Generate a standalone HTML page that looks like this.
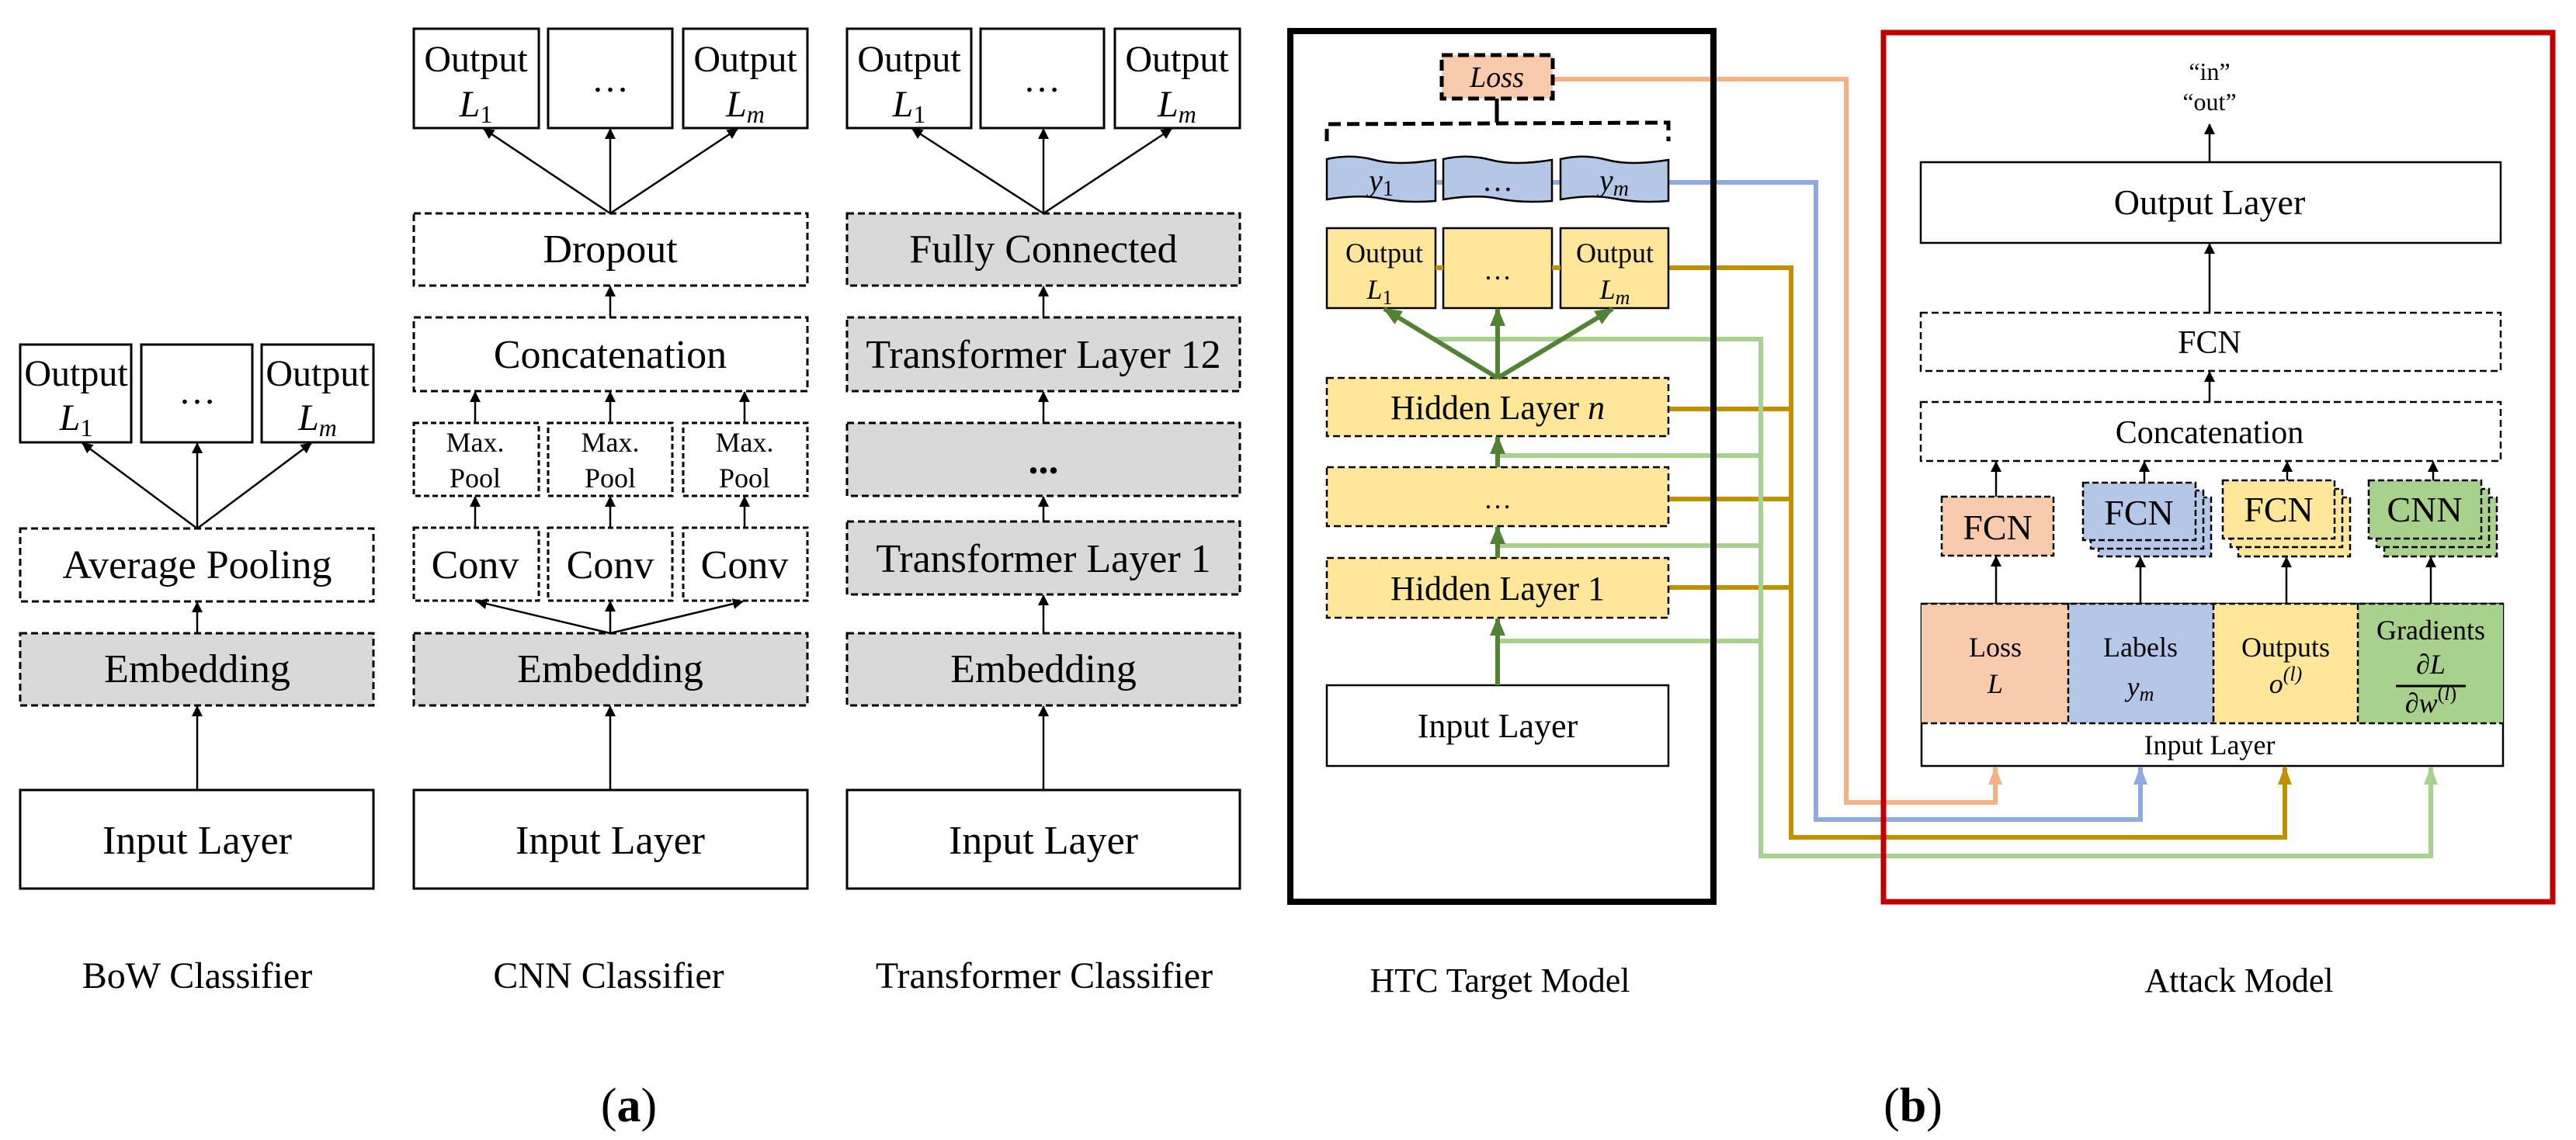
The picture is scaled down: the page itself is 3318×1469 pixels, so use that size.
<!DOCTYPE html>
<html><head><meta charset="utf-8"><style>
html,body{margin:0;padding:0;background:#fff;}
svg{display:block;font-family:"Liberation Serif","Times New Roman",serif;}
svg text{font-family:"Liberation Serif","Times New Roman",serif;fill:#000;}
.m{font-style:italic;}
</style></head><body>
<svg width="3318" height="1469" viewBox="0 0 3318 1469" xmlns="http://www.w3.org/2000/svg" font-family="Liberation Serif, serif">
<defs>
<marker id="a" markerWidth="14" markerHeight="14" refX="13" refY="7" orient="auto" markerUnits="userSpaceOnUse" viewBox="0 0 14 14"><path d="M0,0 L14,7 L0,14 z" fill="#000"/></marker>
<marker id="ag" markerWidth="24" markerHeight="20" refX="22" refY="10" orient="auto" markerUnits="userSpaceOnUse"><path d="M0,0 L24,10 L0,20 z" fill="#548235"/></marker>
<marker id="ao" markerWidth="24" markerHeight="18" refX="22" refY="9" orient="auto" markerUnits="userSpaceOnUse"><path d="M0,0 L24,9 L0,18 z" fill="#f4b183"/></marker>
<marker id="abl" markerWidth="24" markerHeight="18" refX="22" refY="9" orient="auto" markerUnits="userSpaceOnUse"><path d="M0,0 L24,9 L0,18 z" fill="#8faadc"/></marker>
<marker id="ay" markerWidth="24" markerHeight="18" refX="22" refY="9" orient="auto" markerUnits="userSpaceOnUse"><path d="M0,0 L24,9 L0,18 z" fill="#bf9000"/></marker>
<marker id="alg" markerWidth="24" markerHeight="18" refX="22" refY="9" orient="auto" markerUnits="userSpaceOnUse"><path d="M0,0 L24,9 L0,18 z" fill="#a9d18e"/></marker>
</defs>

<!-- ============ (a) ============ -->
<g stroke="#000" stroke-width="3" fill="none">
<rect x="26" y="444" width="143" height="126" fill="#fff"/>
<rect x="182" y="444" width="143" height="126" fill="#fff"/>
<rect x="337" y="444" width="144" height="126" fill="#fff"/>
<rect x="26" y="681" width="455" height="94" stroke-dasharray="9,5"/>
<rect x="26" y="816" width="455" height="93" fill="#d9d9d9" stroke-dasharray="9,5"/>
<rect x="26" y="1018" width="455" height="127" fill="#fff"/>
<rect x="533" y="37" width="161" height="128"/>
<rect x="706" y="37" width="160" height="128"/>
<rect x="880" y="37" width="160" height="128"/>
<rect x="533" y="275" width="507" height="93" stroke-dasharray="9,5"/>
<rect x="533" y="409" width="507" height="95" stroke-dasharray="9,5"/>
<rect x="533" y="545" width="161" height="94" stroke-dasharray="7,4"/>
<rect x="706" y="545" width="160" height="94" stroke-dasharray="7,4"/>
<rect x="880" y="545" width="160" height="94" stroke-dasharray="7,4"/>
<rect x="533" y="680" width="161" height="94" stroke-dasharray="7,4"/>
<rect x="706" y="680" width="160" height="94" stroke-dasharray="7,4"/>
<rect x="880" y="680" width="160" height="94" stroke-dasharray="7,4"/>
<rect x="533" y="816" width="507" height="93" fill="#d9d9d9" stroke-dasharray="9,5"/>
<rect x="533" y="1018" width="507" height="127"/>
<rect x="1091" y="37" width="160" height="128"/>
<rect x="1263" y="37" width="159" height="128"/>
<rect x="1436" y="37" width="161" height="128"/>
<rect x="1091" y="275" width="506" height="93" fill="#d9d9d9" stroke-dasharray="9,5"/>
<rect x="1091" y="409" width="506" height="95" fill="#d9d9d9" stroke-dasharray="9,5"/>
<rect x="1091" y="545" width="506" height="94" fill="#d9d9d9" stroke-dasharray="9,5"/>
<rect x="1091" y="672" width="506" height="94" fill="#d9d9d9" stroke-dasharray="9,5"/>
<rect x="1091" y="816" width="506" height="93" fill="#d9d9d9" stroke-dasharray="9,5"/>
<rect x="1091" y="1018" width="506" height="127"/>
</g>
<g stroke="#000" stroke-width="2.5" fill="none" marker-end="url(#a)">
<line x1="254" y1="681" x2="106" y2="571"/>
<line x1="254" y1="681" x2="254" y2="571"/>
<line x1="254" y1="681" x2="401" y2="571"/>
<line x1="254" y1="816" x2="254" y2="776"/>
<line x1="254" y1="1018" x2="254" y2="910"/>
<line x1="786" y1="275" x2="623" y2="166"/>
<line x1="786" y1="275" x2="786" y2="166"/>
<line x1="786" y1="275" x2="950" y2="166"/>
<line x1="786" y1="409" x2="786" y2="369"/>
<line x1="612" y1="545" x2="612" y2="505"/>
<line x1="786" y1="545" x2="786" y2="505"/>
<line x1="959" y1="545" x2="959" y2="505"/>
<line x1="612" y1="680" x2="612" y2="640"/>
<line x1="786" y1="680" x2="786" y2="640"/>
<line x1="959" y1="680" x2="959" y2="640"/>
<line x1="786" y1="816" x2="614" y2="775"/>
<line x1="786" y1="816" x2="786" y2="775"/>
<line x1="786" y1="816" x2="957" y2="775"/>
<line x1="786" y1="1018" x2="786" y2="910"/>
<line x1="1344" y1="275" x2="1175" y2="166"/>
<line x1="1344" y1="275" x2="1344" y2="166"/>
<line x1="1344" y1="275" x2="1509" y2="166"/>
<line x1="1344" y1="409" x2="1344" y2="369"/>
<line x1="1344" y1="545" x2="1344" y2="505"/>
<line x1="1344" y1="672" x2="1344" y2="640"/>
<line x1="1344" y1="816" x2="1344" y2="767"/>
<line x1="1344" y1="1018" x2="1344" y2="910"/>
</g>
<g font-size="48" text-anchor="middle">
<text x="98" y="497">Output</text><text x="98" y="554" class="m">L<tspan font-size="32" dy="8" font-style="normal">1</tspan></text>
<text x="254" y="520">…</text>
<text x="409" y="497">Output</text><text x="409" y="554" class="m">L<tspan font-size="32" dy="8">m</tspan></text>
<text x="613" y="92">Output</text><text x="613" y="150" class="m">L<tspan font-size="32" dy="8" font-style="normal">1</tspan></text>
<text x="786" y="118">…</text>
<text x="960" y="92">Output</text><text x="960" y="150" class="m">L<tspan font-size="32" dy="8">m</tspan></text>
<text x="1171" y="92">Output</text><text x="1171" y="150" class="m">L<tspan font-size="32" dy="8" font-style="normal">1</tspan></text>
<text x="1342" y="118">…</text>
<text x="1516" y="92">Output</text><text x="1516" y="150" class="m">L<tspan font-size="32" dy="8">m</tspan></text>
</g>
<g font-size="52" text-anchor="middle">
<text x="254" y="745">Average Pooling</text>
<text x="254" y="879">Embedding</text>
<text x="254" y="1100">Input Layer</text>
<text x="786" y="338">Dropout</text>
<text x="786" y="474">Concatenation</text>
<text x="612" y="745">Conv</text><text x="786" y="745">Conv</text><text x="959" y="745">Conv</text>
<text x="786" y="879">Embedding</text>
<text x="786" y="1100">Input Layer</text>
<text x="1344" y="338">Fully Connected</text>
<text x="1344" y="474">Transformer Layer 12</text>
<text x="1344" y="610" font-weight="bold">...</text>
<text x="1344" y="737">Transformer Layer 1</text>
<text x="1344" y="879">Embedding</text>
<text x="1344" y="1100">Input Layer</text>
</g>
<g font-size="36" text-anchor="middle">
<text x="612" y="582">Max.</text><text x="612" y="628">Pool</text>
<text x="786" y="582">Max.</text><text x="786" y="628">Pool</text>
<text x="959" y="582">Max.</text><text x="959" y="628">Pool</text>
</g>
<g font-size="48" text-anchor="middle">
<text x="254" y="1273">BoW Classifier</text>
<text x="784" y="1273">CNN Classifier</text>
<text x="1345" y="1273">Transformer Classifier</text>
<text x="810" y="1445" font-size="62">(<tspan font-weight="bold">a</tspan>)</text>
</g>

<!-- ============ (b) ============ -->
<g fill="none" stroke-width="6">
<polyline points="2000,102 2378,102 2378,1034 2570,1034 2570,989" stroke="#f4b183" marker-end="url(#ao)"/>
<polyline points="2149,235 2339,235 2339,1056 2757,1056 2757,989" stroke="#8faadc" marker-end="url(#abl)"/>
<line x1="1709" y1="235" x2="2149" y2="235" stroke="#8faadc"/>
<polyline points="1709,345 2307,345 2307,1079 2943,1079 2943,989" stroke="#bf9000" marker-end="url(#ay)"/>
<line x1="2149" y1="527" x2="2307" y2="527" stroke="#bf9000"/>
<line x1="2149" y1="643" x2="2307" y2="643" stroke="#bf9000"/>
<line x1="2149" y1="757" x2="2307" y2="757" stroke="#bf9000"/>
<polyline points="1847,437 2268,437 2268,1103 3131,1103 3131,989" stroke="#a9d18e" marker-end="url(#alg)"/>
<line x1="1929" y1="587" x2="2268" y2="587" stroke="#a9d18e"/>
<line x1="1929" y1="703" x2="2268" y2="703" stroke="#a9d18e"/>
<line x1="1929" y1="826" x2="2268" y2="826" stroke="#a9d18e"/>
</g>
<rect x="1662" y="40" width="545" height="1122" fill="none" stroke="#000" stroke-width="8"/>
<rect x="2426" y="42" width="862" height="1120" fill="none" stroke="#c00000" stroke-width="7"/>
<rect x="1857" y="71" width="143" height="56" fill="#f8cbad" stroke="#000" stroke-width="5" stroke-dasharray="14,7"/>
<text x="1928" y="112" font-size="38" text-anchor="middle" class="m">Loss</text>
<path d="M1709,182 L1709,160 L2149,158 L2149,182" fill="none" stroke="#000" stroke-width="5" stroke-dasharray="16,8"/>
<line x1="1928" y1="127" x2="1928" y2="158" stroke="#000" stroke-width="5"/>
<g fill="#b4c7e7" stroke="#000" stroke-width="2.5">
<path d="M1709,205 Q1740,198 1770,206 T1849,206 L1849,259 Q1810,262 1780,256 T1709,257 z"/>
<path d="M1859,205 Q1890,198 1920,206 T1999,206 L1999,259 Q1960,262 1930,256 T1859,257 z"/>
<path d="M2010,205 Q2040,198 2070,206 T2149,206 L2149,259 Q2110,262 2080,256 T2010,257 z"/>
</g>
<g font-size="40" text-anchor="middle" class="m">
<text x="1779" y="246">y<tspan font-size="28" dy="6" font-style="normal">1</tspan></text>
<text x="1929" y="246" font-style="normal">…</text>
<text x="2079" y="246">y<tspan font-size="28" dy="6">m</tspan></text>
</g>
<g fill="#ffe699" stroke="#000" stroke-width="2.5">
<rect x="1709" y="294" width="140" height="103"/>
<rect x="1859" y="294" width="140" height="103"/>
<rect x="2010" y="294" width="139" height="103"/>
<rect x="1709" y="487" width="440" height="75" stroke-dasharray="9,5"/>
<rect x="1709" y="602" width="440" height="76" stroke-dasharray="9,5"/>
<rect x="1709" y="719" width="440" height="77" stroke-dasharray="9,5"/>
</g>
<rect x="1709" y="883" width="440" height="104" fill="#fff" stroke="#000" stroke-width="2.5"/>
<line x1="1849" y1="345" x2="1859" y2="345" stroke="#bf9000" stroke-width="6"/>
<line x1="1999" y1="345" x2="2010" y2="345" stroke="#bf9000" stroke-width="6"/>
<g font-size="36" text-anchor="middle">
<text x="1783" y="338">Output</text><text x="1777" y="385" class="m">L<tspan font-size="26" dy="7" font-style="normal">1</tspan></text>
<text x="1929" y="360">…</text>
<text x="2080" y="338">Output</text><text x="2080" y="385" class="m">L<tspan font-size="26" dy="7">m</tspan></text>
</g>
<g font-size="44" text-anchor="middle">
<text x="1929" y="540">Hidden Layer <tspan class="m">n</tspan></text>
<text x="1929" y="655" font-size="36">…</text>
<text x="1929" y="773">Hidden Layer 1</text>
<text x="1929" y="950">Input Layer</text>
</g>
<g stroke="#548235" stroke-width="6" fill="none" marker-end="url(#ag)">
<line x1="1929" y1="487" x2="1783" y2="398"/>
<line x1="1929" y1="487" x2="1929" y2="398"/>
<line x1="1929" y1="487" x2="2077" y2="398"/>
<line x1="1929" y1="602" x2="1929" y2="563"/>
<line x1="1929" y1="719" x2="1929" y2="679"/>
<line x1="1929" y1="883" x2="1929" y2="797"/>
</g>

<g stroke="#000" stroke-width="2.5">
<rect x="2474" y="209" width="747" height="104" fill="#fff"/>
<rect x="2474" y="403" width="747" height="75" fill="none" stroke-dasharray="9,5"/>
<rect x="2474" y="518" width="747" height="76" fill="none" stroke-dasharray="9,5"/>
<rect x="2501" y="640" width="144" height="76" fill="#f8cbad" stroke-dasharray="8,4"/>
<rect x="2703" y="641" width="145" height="76" fill="#b4c7e7" stroke-dasharray="8,4"/>
<rect x="2693" y="632" width="145" height="75" fill="#b4c7e7" stroke-dasharray="8,4"/>
<rect x="2683" y="622" width="145" height="74" fill="#b4c7e7" stroke-dasharray="8,4"/>
<rect x="2883" y="641" width="144" height="76" fill="#ffe699" stroke-dasharray="8,4"/>
<rect x="2873" y="630" width="144" height="75" fill="#ffe699" stroke-dasharray="8,4"/>
<rect x="2863" y="619" width="144" height="75" fill="#ffe699" stroke-dasharray="8,4"/>
<rect x="3071" y="641" width="145" height="76" fill="#a9d18e" stroke-dasharray="8,4"/>
<rect x="3061" y="630" width="145" height="75" fill="#a9d18e" stroke-dasharray="8,4"/>
<rect x="3051" y="619" width="145" height="75" fill="#a9d18e" stroke-dasharray="8,4"/>
<rect x="2475" y="778" width="749" height="209" fill="#fff"/>
<rect x="2475" y="778" width="189" height="154" fill="#f8cbad" stroke="none"/>
<rect x="2664" y="778" width="187" height="154" fill="#b4c7e7" stroke="none"/>
<rect x="2851" y="778" width="186" height="154" fill="#ffe699" stroke="none"/>
<rect x="3037" y="778" width="187" height="154" fill="#a9d18e" stroke="none"/>
<g fill="none" stroke-dasharray="8,4">
<line x1="2475" y1="778" x2="3224" y2="778"/>
<line x1="2475" y1="932" x2="3224" y2="932"/>
<line x1="2664" y1="778" x2="2664" y2="932"/>
<line x1="2851" y1="778" x2="2851" y2="932"/>
<line x1="3037" y1="778" x2="3037" y2="932"/>
</g>
</g>
<g stroke="#000" stroke-width="2.5" fill="none" marker-end="url(#a)">
<line x1="2846" y1="209" x2="2846" y2="160"/>
<line x1="2846" y1="403" x2="2846" y2="314"/>
<line x1="2846" y1="518" x2="2846" y2="479"/>
<line x1="2571" y1="640" x2="2571" y2="595"/>
<line x1="2762" y1="622" x2="2762" y2="595"/>
<line x1="2946" y1="619" x2="2946" y2="595"/>
<line x1="3134" y1="619" x2="3134" y2="595"/>
<line x1="2571" y1="778" x2="2571" y2="717"/>
<line x1="2757" y1="778" x2="2757" y2="718"/>
<line x1="2945" y1="778" x2="2945" y2="718"/>
<line x1="3131" y1="778" x2="3131" y2="718"/>
</g>
<g text-anchor="middle">
<text x="2846" y="103" font-size="32">“in”</text>
<text x="2846" y="142" font-size="32">“out”</text>
<text x="2846" y="276" font-size="46">Output Layer</text>
<text x="2846" y="455" font-size="42">FCN</text>
<text x="2846" y="571" font-size="42">Concatenation</text>
<text x="2573" y="695" font-size="46">FCN</text>
<text x="2755" y="676" font-size="46">FCN</text>
<text x="2935" y="672" font-size="46">FCN</text>
<text x="3123" y="672" font-size="46">CNN</text>
<text x="2570" y="846" font-size="36">Loss</text>
<text x="2570" y="893" font-size="36" class="m">L</text>
<text x="2757" y="846" font-size="36">Labels</text>
<text x="2757" y="897" font-size="36" class="m">y<tspan font-size="26" dy="6">m</tspan></text>
<text x="2944" y="846" font-size="36">Outputs</text>
<text x="2944" y="893" font-size="36" class="m">o<tspan font-size="26" dy="-16">(l)</tspan></text>
<text x="3131" y="824" font-size="36">Gradients</text>
<text x="3131" y="868" font-size="36" class="m">∂L</text>
<line x1="3086" y1="884" x2="3176" y2="884" stroke="#000" stroke-width="3"/>
<text x="3131" y="918" font-size="36" class="m">∂w<tspan font-size="26" dy="-16" font-style="normal">(<tspan font-style="italic">l</tspan>)</tspan></text>
<text x="2846" y="972" font-size="36">Input Layer</text>
</g>
<g font-size="44" text-anchor="middle">
<text x="1932" y="1278">HTC Target Model</text>
<text x="2884" y="1278">Attack Model</text>
<text x="2464" y="1445" font-size="62">(<tspan font-weight="bold">b</tspan>)</text>
</g>
</svg>
</body></html>
